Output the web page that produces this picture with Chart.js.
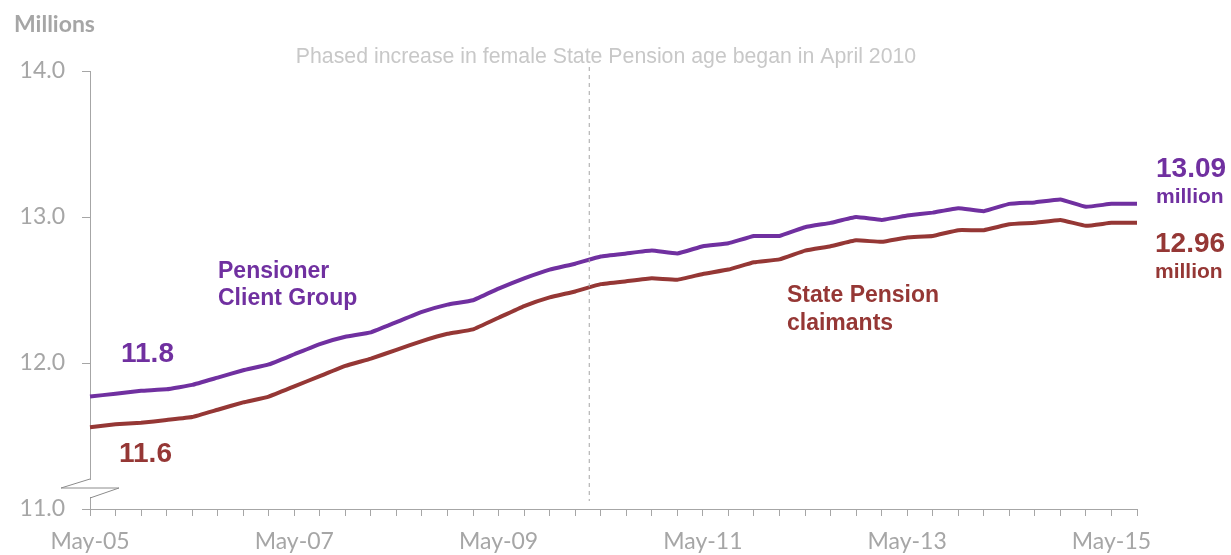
<!DOCTYPE html>
<html>
<head>
<meta charset="utf-8">
<script src="https://cdn.jsdelivr.net/npm/chart.js@4.4.1/dist/chart.umd.min.js"></script>
<style>
  body { margin: 0; background: #fff; }
  #wrap { width: 1231px; height: 555px; }
</style>
</head>
<body>
<div id="wrap"><canvas id="chart" width="1231" height="555"></canvas></div>
<script>
// quarterly, May-05 .. Aug-15
const months = ['May', 'Aug', 'Nov', 'Feb'];
const quarters = [];
for (let i = 0; i < 42; i++) {
  const yr = 2005 + Math.floor((i + 1) / 4);
  quarters.push(months[i % 4] + '-' + String(yr).slice(2));
}

const pensionerGroup = [
  11.77, 11.79, 11.81, 11.82, 11.85, 11.90, 11.95, 11.99, 12.06, 12.13,
  12.18, 12.21, 12.28, 12.35, 12.40, 12.43, 12.51, 12.58, 12.64, 12.68,
  12.73, 12.75, 12.77, 12.75, 12.80, 12.82, 12.87, 12.87, 12.93, 12.96,
  13.00, 12.98, 13.01, 13.03, 13.06, 13.04, 13.09, 13.10, 13.12, 13.07,
  13.09, 13.09
];
const spClaimants = [
  11.56, 11.58, 11.59, 11.61, 11.63, 11.68, 11.73, 11.77, 11.84, 11.91,
  11.98, 12.03, 12.09, 12.15, 12.20, 12.23, 12.31, 12.39, 12.45, 12.49,
  12.54, 12.56, 12.58, 12.57, 12.61, 12.64, 12.69, 12.71, 12.77, 12.80,
  12.84, 12.83, 12.86, 12.87, 12.91, 12.91, 12.95, 12.96, 12.98, 12.94,
  12.96, 12.96
];
const yTicks = [11, 12, 13, 14];
const changeIndex = 19.55; // April 2010, between Feb-10 and May-10

const purple = '#7030a0';
const red = '#953735';
const grey = '#a6a6a6';

const extras = {
  id: 'extras',
  afterDraw(chart) {
    const c = chart.ctx;
    const x = chart.scales.x;
    const y = chart.scales.y;
    c.save();

    // dashed marker line
    const i0 = Math.floor(changeIndex);
    const px = x.getPixelForValue(i0) + (x.getPixelForValue(i0 + 1) - x.getPixelForValue(i0)) * (changeIndex - i0);
    c.strokeStyle = grey;
    c.lineWidth = 1;
    c.setLineDash([4, 4]);
    c.beginPath();
    c.moveTo(px, 67);
    c.lineTo(px, y.getPixelForValue(11) - 8);
    c.stroke();
    c.setLineDash([]);

    // axis break
    const ax = x.left;
    c.fillStyle = '#fff';
    c.fillRect(ax - 2, 480, 4, 17);
    c.strokeStyle = '#8c8c8c';
    c.lineWidth = 1;
    c.beginPath();
    c.moveTo(ax, 479);
    c.lineTo(ax - 29, 488);
    c.lineTo(ax + 29, 488);
    c.lineTo(ax, 498);
    c.stroke();

    c.textBaseline = 'alphabetic';
    c.fillStyle = grey;
    c.font = 'bold 23px Lato';
    c.fillText('Millions', 14, 32);

    c.fillStyle = '#c8c8c8';
    c.font = '21.3px "Liberation Sans"';
    c.textAlign = 'center';
    c.fillText('Phased increase in female State Pension age began in April 2010', 606, 63);
    c.textAlign = 'left';

    c.fillStyle = purple;
    c.font = 'bold 23px "Liberation Sans"';
    c.fillText('Pensioner', 218, 278);
    c.fillText('Client Group', 218, 305);
    c.font = 'bold 28px "Liberation Sans"';
    c.fillText(pensionerGroup[0].toFixed(1), 121, 362);
    c.fillText(pensionerGroup[pensionerGroup.length - 1].toFixed(2), 1156, 177);
    c.font = 'bold 21px "Liberation Sans"';
    c.fillText('million', 1156, 203);

    c.fillStyle = red;
    c.font = 'bold 23px "Liberation Sans"';
    c.fillText('State Pension', 787, 302);
    c.fillText('claimants', 787, 330);
    c.font = 'bold 28px "Liberation Sans"';
    c.fillText(spClaimants[0].toFixed(1), 119, 462);
    c.fillText(spClaimants[spClaimants.length - 1].toFixed(2), 1155, 252);
    c.font = 'bold 21px "Liberation Sans"';
    c.fillText('million', 1155, 278);

    c.restore();
  }
};

new Chart(document.getElementById('chart'), {
  type: 'line',
  data: {
    labels: quarters,
    datasets: [
      { label: 'Pensioner Client Group', data: pensionerGroup, borderColor: purple, borderWidth: 4, pointRadius: 0, tension: 0.1 },
      { label: 'State Pension claimants', data: spClaimants, borderColor: red, borderWidth: 4, pointRadius: 0, tension: 0.1 }
    ]
  },
  options: {
    responsive: false,
    animation: false,
    layout: { padding: { left: 0, right: 94, top: 71, bottom: 0 } },
    plugins: { legend: { display: false }, tooltip: { enabled: false } },
    scales: {
      x: {
        offset: false,
        grid: { display: true, drawOnChartArea: false, color: grey, tickLength: 7 },
        border: { color: grey, width: 1 },
        ticks: {
          autoSkip: false,
          maxRotation: 0,
          color: grey,
          font: { family: 'Lato', size: 23 },
          padding: 12,
          callback: (v, i) => (i % 8 === 0 ? quarters[i] : '')
        },
        afterFit: s => { s.height = 46; }
      },
      y: {
        min: 11,
        max: 14,
        afterBuildTicks: s => { s.ticks = yTicks.map(v => ({ value: v })); },
        grid: { display: true, drawOnChartArea: false, color: grey, tickLength: 8 },
        border: { color: grey, width: 1 },
        ticks: {
          color: grey,
          font: { family: 'Lato', size: 23 },
          padding: 17,
          callback: v => v.toFixed(1)
        },
        afterFit: s => { s.width = 90; }
      }
    }
  },
  plugins: [extras]
});
</script>
</body>
</html>
